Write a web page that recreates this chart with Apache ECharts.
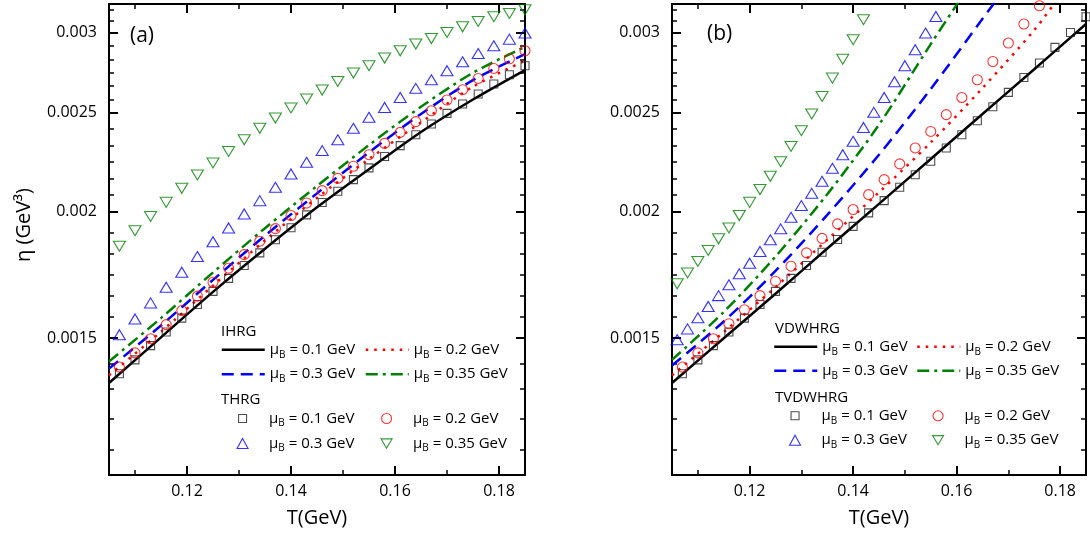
<!DOCTYPE html>
<html><head><meta charset="utf-8">
<script src="https://cdn.jsdelivr.net/npm/echarts@6/dist/echarts.min.js"></script>
<style>html,body{margin:0;padding:0;background:#fff}#c{width:1090px;height:535px}</style>
</head><body><div id="c"></div>
<script>
// ---------- axis ticks ----------
const X_MIN = 0.105, X_MAX = 0.185;
const X_MAJOR = [0.12, 0.14, 0.16, 0.18];
const X_MINOR = [0.11, 0.13, 0.15, 0.17];
const Y_MIN = 0.0011, Y_MAX = 0.0032;
const Y_MAJOR = [0.0015, 0.002, 0.0025, 0.003];
const Y_MINOR = [0.001166, 0.001249, 0.001339, 0.001416, 0.001574, 0.001651, 0.001732, 0.001817, 0.001906,
  0.002076, 0.002154, 0.002236, 0.002321, 0.002409, 0.002577, 0.002657, 0.002739, 0.002823, 0.00291, 0.003078, 0.003158];

// ---------- panel (a) ----------
const T_LINE = [0.105, 0.115, 0.125, 0.135, 0.145, 0.155, 0.165, 0.175, 0.185];
const T_MARK = [0.107, 0.110, 0.113, 0.116, 0.119, 0.122, 0.125, 0.128, 0.131, 0.134, 0.137, 0.140, 0.143, 0.146,
  0.149, 0.152, 0.155, 0.158, 0.161, 0.164, 0.167, 0.170, 0.173, 0.176, 0.179, 0.182, 0.185];
const ihrg01 = [0.001355, 0.001503, 0.001666, 0.001837, 0.002018, 0.0022, 0.002394, 0.002577, 0.002755];
const ihrg02 = [0.001379, 0.001522, 0.00169, 0.001872, 0.002062, 0.002252, 0.002447, 0.002653, 0.002814];
const ihrg03 = [0.0014, 0.001544, 0.001712, 0.001893, 0.002083, 0.002286, 0.002494, 0.002693, 0.002857];
const ihrg035 = [0.001423, 0.00157, 0.001741, 0.001925, 0.002118, 0.002324, 0.002535, 0.002738, 0.002904];
const thrg01 = [0.001384, 0.001428, 0.001475, 0.001521, 0.00157, 0.001619, 0.001668, 0.001718, 0.001769, 0.00182,
  0.001875, 0.001927, 0.001984, 0.00204, 0.002093, 0.002149, 0.002207, 0.002265, 0.002321, 0.002379, 0.002438,
  0.002497, 0.002551, 0.002609, 0.002669, 0.002726, 0.002782];
const thrg02 = [0.001405, 0.001451, 0.001498, 0.001547, 0.001597, 0.00165, 0.001703, 0.001758, 0.001813, 0.001869,
  0.001923, 0.001981, 0.002038, 0.002096, 0.002155, 0.002215, 0.002274, 0.002333, 0.002392, 0.002451, 0.002512,
  0.002574, 0.002635, 0.002703, 0.002765, 0.002826, 0.002878];
const thrg03 = [0.001512, 0.001567, 0.001625, 0.001684, 0.001742, 0.001805, 0.001867, 0.001926, 0.001988, 0.002049,
  0.002112, 0.002177, 0.002235, 0.002295, 0.002352, 0.002414, 0.002475, 0.002531, 0.002589, 0.002643, 0.002695,
  0.002751, 0.002807, 0.00286, 0.002911, 0.002955, 0.002996];
const thrg035 = [0.001848, 0.001914, 0.001977, 0.002041, 0.002107, 0.002172, 0.002232, 0.002291, 0.002352, 0.002414,
  0.002471, 0.002528, 0.00258, 0.002633, 0.002685, 0.002736, 0.002782, 0.002831, 0.002878, 0.002922, 0.002959,
  0.003, 0.003039, 0.003076, 0.003109, 0.003132, 0.003158];

// ---------- panel (b) ----------
const T_B_L01 = [0.105, 0.115, 0.125, 0.135, 0.145, 0.155, 0.165, 0.175, 0.185];
const T_B_L02 = [0.105, 0.115, 0.125, 0.135, 0.145, 0.155, 0.165, 0.175, 0.18];
const T_B_L03 = [0.105, 0.115, 0.125, 0.135, 0.145, 0.155, 0.165, 0.17];
const T_B_L035 = [0.105, 0.115, 0.125, 0.135, 0.145, 0.155, 0.165];
const vdw01 = [0.001355, 0.0015, 0.001659, 0.001838, 0.002034, 0.002252, 0.002494, 0.00276, 0.003058];
const vdw02 = [0.001379, 0.001521, 0.001684, 0.001875, 0.002088, 0.002338, 0.002645, 0.003016, 0.003262];
const vdw03 = [0.00141, 0.001558, 0.001747, 0.001984, 0.002274, 0.002639, 0.003094, 0.003347];
const vdw035 = [0.001428, 0.001592, 0.001805, 0.002079, 0.002434, 0.002922, 0.003489];
const T_B_SQ = T_MARK;
const T_B_CI = [0.107, 0.110, 0.113, 0.116, 0.119, 0.122, 0.125, 0.128, 0.131, 0.134, 0.137, 0.140, 0.143, 0.146,
  0.149, 0.152, 0.155, 0.158, 0.161, 0.164, 0.167, 0.170, 0.173, 0.176];
const T_B_TR = [0.106, 0.108, 0.110, 0.112, 0.114, 0.116, 0.118, 0.120, 0.122, 0.124, 0.126, 0.128, 0.130, 0.132,
  0.134, 0.136, 0.138, 0.140, 0.142, 0.144, 0.146, 0.148, 0.150, 0.152, 0.154, 0.156];
const T_B_TD = [0.106, 0.108, 0.110, 0.112, 0.114, 0.116, 0.118, 0.120, 0.122, 0.124, 0.126, 0.128, 0.130, 0.132,
  0.134, 0.136, 0.138, 0.140, 0.142];
const tvdw01 = [0.001384, 0.001428, 0.001475, 0.001521, 0.00157, 0.001619, 0.001668, 0.001718, 0.001769, 0.001823,
  0.001876, 0.001933, 0.001993, 0.002049, 0.002112, 0.002173, 0.00224, 0.002309, 0.002379, 0.002456, 0.002535,
  0.002619, 0.002709, 0.002799, 0.0029, 0.003, 0.003109];
const tvdw02 = [0.001405, 0.001451, 0.001498, 0.00155, 0.0016, 0.001652, 0.001707, 0.001766, 0.00182, 0.001881,
  0.001944, 0.002008, 0.002077, 0.002149, 0.002227, 0.002309, 0.002397, 0.00249, 0.002589, 0.002695, 0.002809,
  0.002929, 0.003058, 0.003187];
const tvdw03 = [0.001495, 0.001532, 0.001571, 0.001612, 0.001652, 0.001693, 0.001736, 0.001778, 0.001826, 0.001875,
  0.001922, 0.001973, 0.002026, 0.002083, 0.002141, 0.002205, 0.002274, 0.002344, 0.002419, 0.002503, 0.002589,
  0.002683, 0.002782, 0.002885, 0.002996, 0.003111];
const tvdw035 = [0.001697, 0.001739, 0.001785, 0.00183, 0.001879, 0.001926, 0.001981, 0.002041, 0.002101, 0.002165,
  0.002238, 0.002317, 0.002401, 0.002494, 0.002595, 0.002705, 0.002824, 0.002951, 0.003088];

const MU_LABELS = {'0.1': '0.1', '0.2': '0.2', '0.3': '0.3', '0.35': '0.35'};
const FONT = '"Open Sans", sans-serif';
const BLACK = '#000000', RED = '#ff0000', BLUE = '#0000ff', GREEN = '#008000';
const DOWN_TRI = 'path://M0,0L12,0L6,10Z';

const pairs = (xs, ys) => ys.map((y, i) => [xs[i], y]);

function xAxes(g) {
  const base = {type: 'value', gridIndex: g, min: X_MIN, max: X_MAX, splitLine: {show: false}};
  const line = {show: true, onZero: false, lineStyle: {color: '#000', width: 2}};
  return [
    Object.assign({}, base, {position: 'bottom', axisLine: line,
      axisTick: {inside: true, length: 9, customValues: X_MAJOR, lineStyle: {color: '#000', width: 2}},
      axisLabel: {customValues: X_MAJOR, margin: 8, fontSize: 16, fontFamily: FONT, color: '#000',
        formatter: v => Number(v).toFixed(2)},
      name: 'T(GeV)', nameLocation: 'middle', nameGap: 33,
      nameTextStyle: {fontSize: 20, fontFamily: FONT, color: '#000'}}),
    Object.assign({}, base, {position: 'bottom', axisLine: {show: false, onZero: false},
      axisTick: {inside: true, length: 5, customValues: X_MINOR, lineStyle: {color: '#000', width: 1.5}},
      axisLabel: {show: false}}),
    Object.assign({}, base, {position: 'top', axisLine: line,
      axisTick: {inside: true, length: 9, customValues: X_MAJOR, lineStyle: {color: '#000', width: 2}},
      axisLabel: {show: false}}),
    Object.assign({}, base, {position: 'top', axisLine: {show: false, onZero: false},
      axisTick: {inside: true, length: 5, customValues: X_MINOR, lineStyle: {color: '#000', width: 1.5}},
      axisLabel: {show: false}})
  ];
}
function yAxes(g) {
  const base = {type: 'log', logBase: 10, gridIndex: g, min: Y_MIN, max: Y_MAX, splitLine: {show: false}};
  const line = {show: true, onZero: false, lineStyle: {color: '#000', width: 2}};
  return [
    Object.assign({}, base, {position: 'left', axisLine: line,
      axisTick: {inside: true, length: 9, customValues: Y_MAJOR, lineStyle: {color: '#000', width: 2}},
      axisLabel: {customValues: Y_MAJOR, margin: 12, fontSize: 16, fontFamily: FONT, color: '#000',
        formatter: v => String(parseFloat(Number(v).toPrecision(3)))}}),
    Object.assign({}, base, {position: 'left', axisLine: {show: false, onZero: false},
      axisTick: {inside: true, length: 5, customValues: Y_MINOR, lineStyle: {color: '#000', width: 1.5}},
      axisLabel: {show: false}}),
    Object.assign({}, base, {position: 'right', axisLine: line,
      axisTick: {inside: true, length: 9, customValues: Y_MAJOR, lineStyle: {color: '#000', width: 2}},
      axisLabel: {show: false}}),
    Object.assign({}, base, {position: 'right', axisLine: {show: false, onZero: false},
      axisTick: {inside: true, length: 5, customValues: Y_MINOR, lineStyle: {color: '#000', width: 1.5}},
      axisLabel: {show: false}})
  ];
}

const DASH = {solid: 'solid', dot: [2.5, 6], dash: [12, 7], dashdot: [12, 5, 3, 5]};
function lineSeries(name, g, xs, ys, color, type) {
  return {type: 'line', name, xAxisIndex: g * 4, yAxisIndex: g * 4, data: pairs(xs, ys),
    smooth: 0.3, symbol: 'none', showSymbol: false, clip: true, z: 2,
    lineStyle: {color, width: 2.5, type: DASH[type]}, itemStyle: {color}};
}
function markSeries(name, g, xs, ys, color, symbol, size) {
  return {type: 'scatter', name, xAxisIndex: g * 4, yAxisIndex: g * 4, data: pairs(xs, ys),
    symbol, symbolSize: size, clip: true, z: 3,
    itemStyle: {color: 'rgba(255,255,255,0)', borderColor: color, borderWidth: 1.1}};
}

const series = [
  lineSeries('a_l_0.1', 0, T_LINE, ihrg01, BLACK, 'solid'),
  lineSeries('a_l_0.2', 0, T_LINE, ihrg02, RED, 'dot'),
  lineSeries('a_l_0.3', 0, T_LINE, ihrg03, BLUE, 'dash'),
  lineSeries('a_l_0.35', 0, T_LINE, ihrg035, GREEN, 'dashdot'),
  markSeries('a_m_0.1', 0, T_MARK, thrg01, '#222', 'rect', 8),
  markSeries('a_m_0.2', 0, T_MARK, thrg02, RED, 'circle', 10),
  markSeries('a_m_0.3', 0, T_MARK, thrg03, BLUE, 'triangle', [12, 10]),
  markSeries('a_m_0.35', 0, T_MARK, thrg035, GREEN, DOWN_TRI, [12, 10]),
  lineSeries('b_l_0.1', 1, T_B_L01, vdw01, BLACK, 'solid'),
  lineSeries('b_l_0.2', 1, T_B_L02, vdw02, RED, 'dot'),
  lineSeries('b_l_0.3', 1, T_B_L03, vdw03, BLUE, 'dash'),
  lineSeries('b_l_0.35', 1, T_B_L035, vdw035, GREEN, 'dashdot'),
  markSeries('b_m_0.1', 1, T_B_SQ, tvdw01, '#222', 'rect', 8),
  markSeries('b_m_0.2', 1, T_B_CI, tvdw02, RED, 'circle', 10),
  markSeries('b_m_0.3', 1, T_B_TR, tvdw03, BLUE, 'triangle', [12, 10]),
  markSeries('b_m_0.35', 1, T_B_TD, tvdw035, GREEN, DOWN_TRI, [12, 10])
];

function richFor(padLeft) {
  return {
    p: {fontFamily: FONT, fontSize: 15, lineHeight: 20, color: '#000', padding: [0, 0, 0, padLeft]},
    m: {fontFamily: FONT, fontSize: 15, lineHeight: 20, color: '#000'},
    s: {fontFamily: FONT, fontSize: 10, lineHeight: 10, verticalAlign: 'bottom', color: '#000'}
  };
}
const fmt = n => '{p|μ}{s|B}{m| = ' + MU_LABELS[n.split('_')[2]] + ' GeV}';
// line legend: icon 43 wide starting at column left
function lgLine(name, colLeft, rowMid) {
  return {show: true, data: [name], left: colLeft, top: rowMid - 10, orient: 'horizontal',
    itemWidth: 43, itemHeight: 14, itemGap: 0, padding: 0, selectedMode: false, formatter: fmt,
    textStyle: {fontFamily: FONT, fontSize: 15, color: '#000', rich: richFor(0)},
    lineStyle: {width: 2.5}, itemStyle: {opacity: 0}};
}
// marker legend: icon centred in the same 43px column, text at the same x as line legends
function lgMark(name, colLeft, rowMid, icon, w, h) {
  return {show: true, data: [name], left: colLeft + 21.5 - w / 2, top: rowMid - 10, orient: 'horizontal',
    icon, itemWidth: w, itemHeight: h, itemGap: 0, padding: 0, selectedMode: false, formatter: fmt,
    textStyle: {fontFamily: FONT, fontSize: 15, color: '#000', rich: richFor(21.5 - w / 2)},
    itemStyle: {borderWidth: 1.1}};
}
const legends = [
  lgLine('a_l_0.1', 220.5, 352.3), lgLine('a_l_0.2', 364.5, 352.3),
  lgLine('a_l_0.3', 220.5, 376.7), lgLine('a_l_0.35', 364.5, 376.7),
  lgMark('a_m_0.1', 220.5, 421, 'rect', 8, 8), lgMark('a_m_0.2', 364.5, 421, 'circle', 10, 10),
  lgMark('a_m_0.3', 220.5, 446, 'triangle', 11, 10), lgMark('a_m_0.35', 364.5, 446, DOWN_TRI, 11, 10),
  lgLine('b_l_0.1', 773, 349.3), lgLine('b_l_0.2', 916, 349.3),
  lgLine('b_l_0.3', 773, 373.3), lgLine('b_l_0.35', 916, 373.3),
  lgMark('b_m_0.1', 773, 418.3, 'rect', 8, 8), lgMark('b_m_0.2', 916, 418.3, 'circle', 10, 10),
  lgMark('b_m_0.3', 773, 442.7, 'triangle', 11, 10), lgMark('b_m_0.35', 916, 442.7, DOWN_TRI, 11, 10)
];

const txt = (s, left, top, size) => ({type: 'text', left, top, z: 10,
  style: {text: s, font: size + 'px "Open Sans", sans-serif', fill: '#000'}});

const option = {
  animation: false,
  backgroundColor: '#fff',
  grid: [
    {left: 109, top: 4, width: 416, height: 471, containLabel: false},
    {left: 672, top: 4, width: 414, height: 471, containLabel: false}
  ],
  xAxis: [...xAxes(0), ...xAxes(1)],
  yAxis: [...yAxes(0), ...yAxes(1)],
  legend: legends,
  series,
  graphic: [
    txt('IHRG', 221, 324, 15), txt('THRG', 221, 392.5, 15),
    txt('VDWHRG', 775, 321, 15), txt('TVDWHRG', 775, 390, 15),
    txt('(a)', 130, 26, 21), txt('(b)', 707, 24, 21),
    {type: 'text', x: 24, y: 225, rotation: Math.PI / 2, z: 10,
      style: {text: 'η (GeV³)', font: '20px "Open Sans", sans-serif', fill: '#000',
        align: 'center', verticalAlign: 'middle'}}
  ]
};
const chart = echarts.init(document.getElementById('c'), null, {renderer: 'canvas'});
chart.setOption(option);
</script></body></html>
